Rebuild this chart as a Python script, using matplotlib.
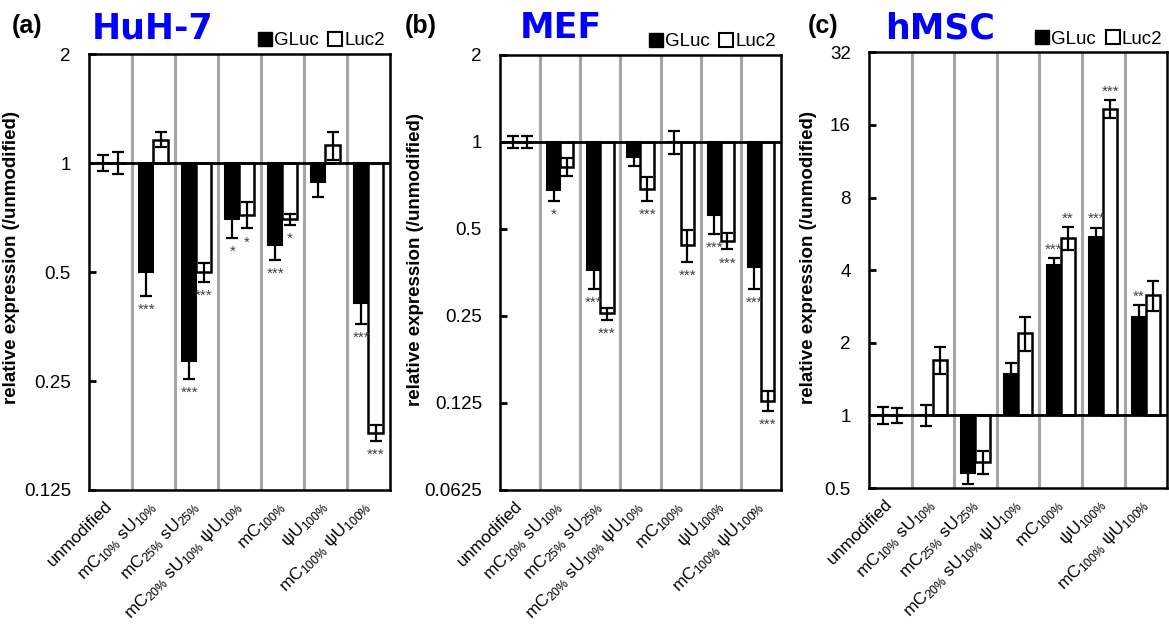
import matplotlib
matplotlib.use('Agg')
import matplotlib.pyplot as plt
from matplotlib.patches import Patch
import numpy as np

plt.rcParams['font.family'] = ['Liberation Sans', 'DejaVu Sans']
plt.rcParams['mathtext.fontset'] = 'custom'
plt.rcParams['mathtext.rm'] = 'Liberation Sans'
plt.rcParams['mathtext.default'] = 'regular'

# categories (x axis)
labels = ['unmodified', r'mC$_{10\%}$ sU$_{10\%}$', r'mC$_{25\%}$ sU$_{25\%}$',
          r'mC$_{20\%}$ sU$_{10\%}$ ψU$_{10\%}$', r'mC$_{100\%}$', r'ψU$_{100\%}$',
          r'mC$_{100\%}$ ψU$_{100\%}$']

# (a) HuH-7
huh7_gluc = [1.0, 0.50, 0.284, 0.70, 0.595, 0.885, 0.41]
huh7_gluc_err = [0.05, 0.07, 0.031, 0.08, 0.055, 0.08, 0.05]
huh7_luc2 = [1.0, 1.16, 0.50, 0.72, 0.70, 1.12, 0.18]
huh7_luc2_err = [0.07, 0.055, 0.03, 0.06, 0.025, 0.10, 0.009]
huh7_gluc_stars = ['', '***', '***', '*', '***', '', '***']
huh7_luc2_stars = ['', '', '***', '*', '*', '', '***']
huh7_ticks = [0.125, 0.25, 0.5, 1, 2]
huh7_ticklabels = ['0.125', '0.25', '0.5', '1', '2']

# (b) MEF
mef_gluc = [1.0, 0.68, 0.36, 0.89, 1.0, 0.56, 0.37]
mef_gluc_err = [0.05, 0.055, 0.05, 0.065, 0.09, 0.08, 0.06]
mef_luc2 = [1.0, 0.82, 0.255, 0.69, 0.44, 0.455, 0.127]
mef_luc2_err = [0.05, 0.06, 0.012, 0.065, 0.055, 0.03, 0.01]
mef_gluc_stars = ['', '*', '***', '', '', '***', '***']
mef_luc2_stars = ['', '', '***', '***', '***', '***', '***']
mef_ticks = [0.0625, 0.125, 0.25, 0.5, 1, 2]
mef_ticklabels = ['0.0625', '0.125', '0.25', '0.5', '1', '2']

# (c) hMSC
hmsc_gluc = [1.0, 1.0, 0.58, 1.48, 4.2, 5.5, 2.55]
hmsc_gluc_err = [0.08, 0.10, 0.06, 0.17, 0.3, 0.5, 0.32]
hmsc_luc2 = [1.0, 1.7, 0.64, 2.2, 5.45, 18.7, 3.15]
hmsc_luc2_err = [0.07, 0.22, 0.07, 0.35, 0.6, 1.6, 0.45]
hmsc_gluc_stars = ['', '', '', '', '***', '***', '**']
hmsc_luc2_stars = ['', '', '', '', '**', '***', '']
hmsc_ticks = [0.5, 1, 2, 4, 8, 16, 32]
hmsc_ticklabels = ['0.5', '1', '2', '4', '8', '16', '32']


def draw_panel(ax, gluc, gerr, luc2, lerr, gstars, lstars, ticks, ticklabels):
    x = np.arange(len(labels))
    w = 0.33
    for i in range(len(labels) - 1):
        ax.axvline(i + 0.5, color='#a6a6a6', lw=2.2, zorder=0)
    g = np.array(gluc)
    l = np.array(luc2)
    ax.bar(x - w / 2, g - 1, bottom=1, width=w, color='black', edgecolor='black', lw=1.5, zorder=2)
    ax.bar(x + w / 2, l - 1, bottom=1, width=w, color='white', edgecolor='black', lw=1.8, zorder=2)
    ax.errorbar(x - w / 2, g, yerr=gerr, fmt='none', ecolor='black', elinewidth=1.6, capsize=4.5, capthick=1.6, zorder=3)
    ax.errorbar(x + w / 2, l, yerr=lerr, fmt='none', ecolor='black', elinewidth=1.6, capsize=4.5, capthick=1.6, zorder=3)
    ax.axhline(1, color='black', lw=2, zorder=4)
    for xs, vals, errs, stars in [(x - w / 2, gluc, gerr, gstars), (x + w / 2, luc2, lerr, lstars)]:
        for xi, v, e, s in zip(xs, vals, errs, stars):
            if not s:
                continue
            if v < 1:
                ax.annotate(s, (xi, v - e), xytext=(0, -5), textcoords='offset points',
                            ha='center', va='top', fontsize=11, color='#404048')
            else:
                ax.annotate(s, (xi, v + e), xytext=(0, 1), textcoords='offset points',
                            ha='center', va='bottom', fontsize=11, color='#404048')
    ax.set_yscale('log', base=2)
    ax.set_ylim(ticks[0], ticks[-1])
    ax.set_yticks(ticks)
    ax.set_yticklabels(ticklabels)
    ax.minorticks_off()
    ax.set_xlim(-0.5, len(labels) - 0.5)
    ax.set_xticks(x)
    ax.set_xticklabels(labels, rotation=45, ha='right', va='center', rotation_mode='anchor', fontsize=12.5)
    ax.tick_params(axis='x', length=0, pad=10)
    ax.tick_params(axis='y', direction='in', length=5, width=2, labelsize=13.5, pad=13)
    for sp in ax.spines.values():
        sp.set_linewidth(1.8)
    handles = [Patch(facecolor='black', edgecolor='black', label='GLuc'),
               Patch(facecolor='white', edgecolor='black', lw=1.5, label='Luc2')]
    ax.legend(handles=handles, loc='lower right', bbox_to_anchor=(1.0, 1.0), ncol=2, frameon=False,
              handlelength=0.75, handleheight=0.75, handletextpad=0.12, columnspacing=0.5,
              borderpad=0, borderaxespad=0.25, fontsize=13.5)


fig = plt.figure(figsize=(11.69, 6.29), dpi=100)
ax1 = fig.add_axes([0.0761, 0.221, 0.2575, 0.693])
ax2 = fig.add_axes([0.4277, 0.221, 0.2404, 0.6916])
ax3 = fig.add_axes([0.7434, 0.224, 0.255, 0.693])

draw_panel(ax1, huh7_gluc, huh7_gluc_err, huh7_luc2, huh7_luc2_err, huh7_gluc_stars, huh7_luc2_stars, huh7_ticks, huh7_ticklabels)
draw_panel(ax2, mef_gluc, mef_gluc_err, mef_luc2, mef_luc2_err, mef_gluc_stars, mef_luc2_stars, mef_ticks, mef_ticklabels)
draw_panel(ax3, hmsc_gluc, hmsc_gluc_err, hmsc_luc2, hmsc_luc2_err, hmsc_gluc_stars, hmsc_luc2_stars, hmsc_ticks, hmsc_ticklabels)

for ax, xc, yc in [(ax1, -0.229, 0.534), (ax2, -0.27, 0.53), (ax3, -0.174, 0.53)]:
    ax.set_ylabel('relative expression (/unmodified)', fontsize=13.5, fontweight='bold')
    ax.yaxis.set_label_coords(xc, yc)

for xp, panel in [(0.0103, '(a)'), (0.3465, '(b)'), (0.691, '(c)')]:
    fig.text(xp, 0.958, panel, fontsize=18, fontweight='bold', va='center')
name_pos = [(0.0787, 'HuH-7'), (0.4448, 'MEF'), (0.757, 'hMSC')]
for xp, name in name_pos:
    fig.text(xp, 0.955, name, fontsize=25, fontweight='bold', color='#0000ff', va='center',
             family='DejaVu Sans')

fig.savefig('out.png', dpi=100)
